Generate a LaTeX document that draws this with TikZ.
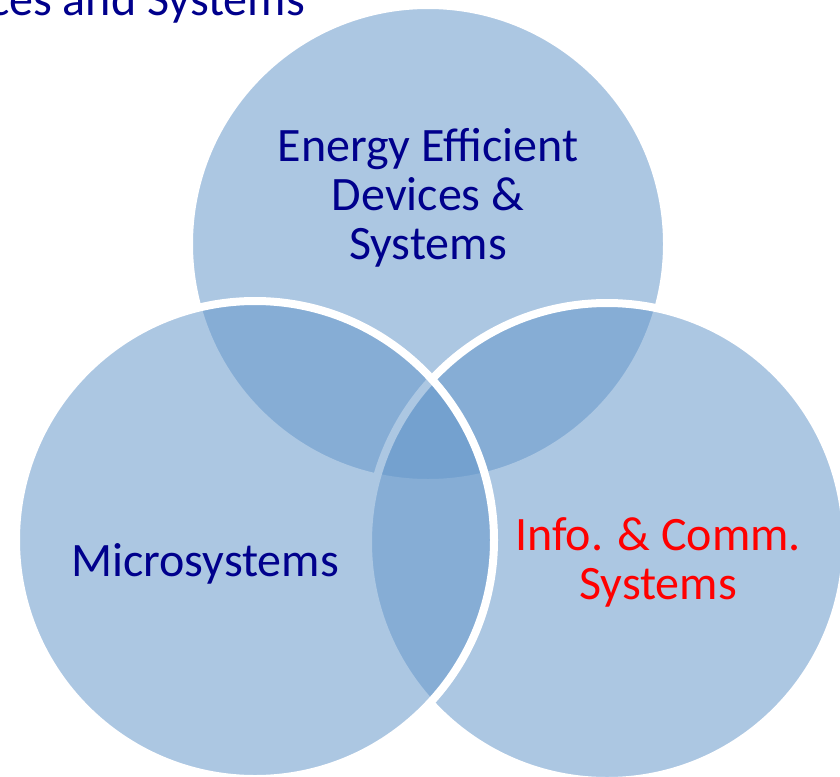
\documentclass[tikz,border=0pt]{standalone}
\usepackage{fontspec}
\setmainfont{Carlito}
\definecolor{setblue}{RGB}{102,152,203}
\definecolor{labelblue}{RGB}{0,0,140}
\begin{document}
\begin{tikzpicture}[x=1pt, y=-1pt, set circle/.style={draw=white, line width=8pt, fill=setblue, fill opacity=0.54}]
        \tikzstyle{every node}=[font=\fontsize{48}{49}\selectfont, align=center, anchor=base, text=labelblue, inner sep=0pt]
        \clip (0,0) rectangle (840,776);
        \fill[white] (0,0) rectangle (840,776);

          \coordinate (top) at (428,244);
          \coordinate (right) at (607,542);
          \coordinate (left) at (255,540);

          % top first, left last: left rim stays on top
          \draw[set circle] (top) circle (239pt);
          \draw[set circle] (right) circle (239pt);
          \draw[set circle] (left) circle (239pt);

          \node (title) [anchor=base east] at (305,16) {ces and Systems};
          \node (energy) at (428,259) {Energy Efficient\\Devices \&\\Systems};
          \node (micro) at (205,576) {Microsystems};
          \node (info) [text=red] at (658,599) {Info. \& Comm.\\Systems};

\end{tikzpicture}
\end{document}
